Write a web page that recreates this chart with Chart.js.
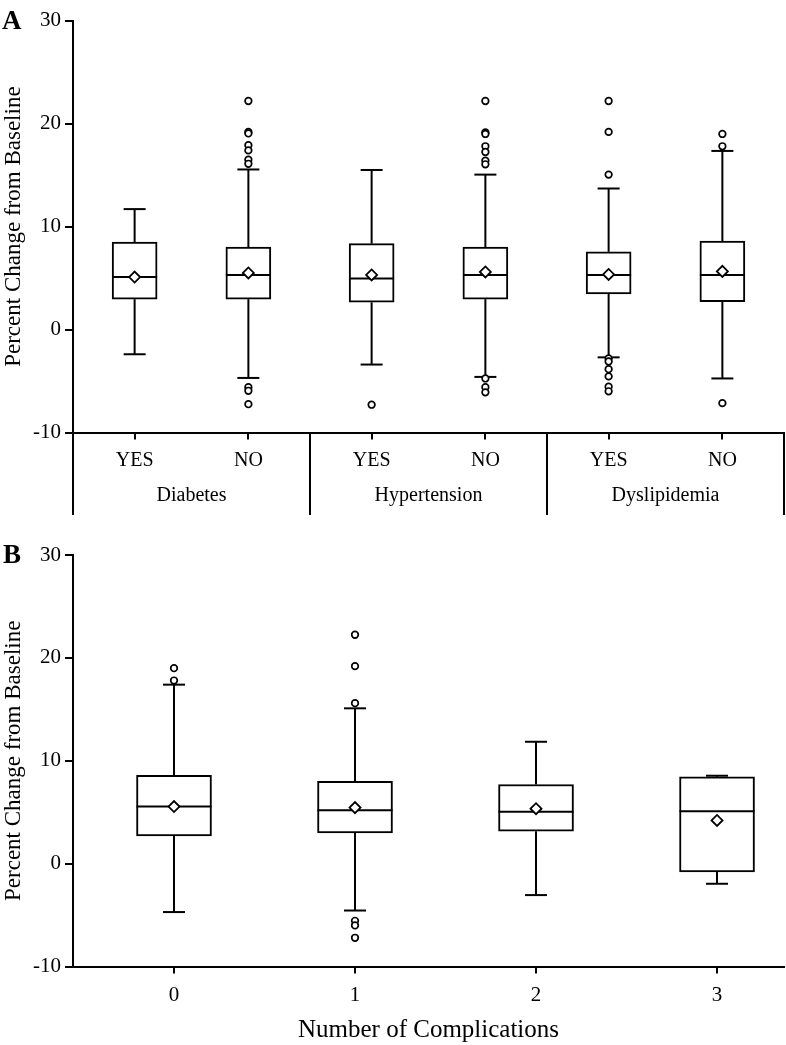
<!DOCTYPE html>
<html>
<head>
<meta charset="utf-8">
<script src="https://cdn.jsdelivr.net/npm/chart.js@4.4.1/dist/chart.umd.min.js"></script>
<style>
  body { margin: 0; background: #fff; }
  #wrap { position: relative; width: 786px; height: 1045px; }
  canvas { position: absolute; left: 0; }
  #chartA { top: 0; }
  #chartB { top: 520px; }
</style>
</head>
<body>
<div id="wrap">
  <canvas id="chartA" width="786" height="520"></canvas>
  <canvas id="chartB" width="786" height="525"></canvas>
</div>
<script>
const SERIF = '"Liberation Serif", "Times New Roman", serif';

// ---------- PANEL A DATA ----------
const groupsA = ["Diabetes", "Hypertension", "Dyslipidemia"];
const catsA = ["YES", "NO", "YES", "NO", "YES", "NO"];
const lowA  = [-2.4, -4.7, -3.4, -4.6, -2.7, -4.75];
const q1A   = [2.95, 2.95, 2.65, 2.95, 3.45, 2.7];
const medA  = [5.1, 5.3, 4.95, 5.3, 5.3, 5.3];
const q3A   = [8.5, 8.0, 8.35, 8.0, 7.55, 8.6];
const highA = [11.7, 15.55, 15.5, 15.05, 13.7, 17.35];
const meanA = [5.1, 5.5, 5.3, 5.6, 5.35, 5.65];
const outA = [
  [],
  [22.2, 19.2, 19.05, 17.9, 17.4, 16.5, 16.1, -5.6, -5.95, -7.25],
  [-7.3],
  [22.2, 19.15, 19.0, 17.8, 17.25, 16.4, 16.05, -4.75, -5.6, -6.1],
  [22.2, 19.2, 15.05, -2.8, -3.1, -3.85, -4.55, -5.55, -6.0],
  [19.0, 17.8, -7.15]
];

// ---------- PANEL B DATA ----------
const catsB = ["0", "1", "2", "3"];
const lowB  = [-4.7, -4.55, -3.05, -1.95];
const q1B   = [2.7, 3.0, 3.15, -0.8];
const medB  = [5.55, 5.2, 5.05, 5.1];
const q3B   = [8.6, 8.0, 7.7, 8.45];
const highB = [17.4, 15.1, 11.85, 8.55];
const meanB = [5.55, 5.45, 5.35, 4.2];
const outB  = [[19.0, 17.8], [22.25, 19.2, 15.6, -5.55, -6.0, -7.2], [], []];

const yTicks = [-10, 0, 10, 20, 30];

// x positions: panel A has two slots in each group, panel B one per count
const posA = catsA.map((c, i) => Math.floor(i / 2) + (i % 2 ? 0.74 : 0.26));
const posB = catsB.map(c => Number(c));

// ---------- WHISKERS + MEDIAN ----------
function whiskers(s) {
  return {
    id: 'whiskers',
    afterDatasetDraw(chart, args) {
      if (args.index !== 0) return;
      const y = chart.scales.y, ctx = chart.ctx;
      const line = (x1, y1, x2, y2) => { ctx.beginPath(); ctx.moveTo(x1, y1); ctx.lineTo(x2, y2); ctx.stroke(); };
      ctx.save();
      ctx.strokeStyle = '#000';
      ctx.lineWidth = 2;
      args.meta.data.forEach((bar, i) => {
        const x = bar.x, half = bar.width / 2, cap = 11;
        const hi = y.getPixelForValue(s.high[i]), lo = y.getPixelForValue(s.low[i]);
        line(x, y.getPixelForValue(s.q3[i]), x, hi);
        line(x, y.getPixelForValue(s.q1[i]), x, lo);
        line(x - cap, hi, x + cap, hi);
        line(x - cap, lo, x + cap, lo);
        const m = y.getPixelForValue(s.med[i]);
        line(x - half, m, x + half, m);
      });
      ctx.restore();
    }
  };
}

// ---------- CHART FACTORY ----------
function boxChart(id, o) {
  const s = o.stats;
  const outliers = [];
  s.out.forEach((vals, i) => vals.forEach(v => outliers.push({ x: o.pos[i], y: v })));

  return new Chart(document.getElementById(id), {
    type: 'bar',
    data: {
      datasets: [
        {
          type: 'bar',
          data: o.pos.map((p, i) => ({ x: p, y: [s.q1[i], s.q3[i]] })),
          backgroundColor: '#fff',
          borderColor: '#000',
          borderWidth: 2,
          borderSkipped: false,
          barThickness: o.boxWidth,
          order: 2
        },
        {
          type: 'scatter',
          data: o.pos.map((p, i) => ({ x: p, y: s.mean[i] })),
          pointStyle: 'rectRot',
          pointRadius: 5.5,
          backgroundColor: '#fff',
          borderColor: '#000',
          borderWidth: 1.8,
          order: 1
        },
        {
          type: 'scatter',
          data: outliers,
          pointStyle: 'circle',
          pointRadius: 3.3,
          backgroundColor: '#fff',
          borderColor: '#000',
          borderWidth: 1.7,
          order: 0
        }
      ]
    },
    options: {
      responsive: false,
      animation: false,
      devicePixelRatio: 1,
      layout: { autoPadding: false, padding: { left: 0, top: o.top, right: 2, bottom: 0 } },
      plugins: { legend: { display: false }, tooltip: { enabled: false } },
      scales: {
        x: {
          type: 'linear',
          min: o.xMin,
          max: o.xMax,
          offset: false,
          afterBuildTicks: sc => { sc.ticks = o.pos.map(v => ({ value: v })); },
          afterFit: sc => { sc.height = o.xHeight; sc.paddingLeft = 0; sc.paddingRight = 0; },
          ticks: {
            callback: (v, i) => o.cats[i],
            autoSkip: false,
            maxRotation: 0,
            color: '#000',
            padding: 9,
            font: { family: SERIF, size: o.xFont }
          },
          grid: { drawOnChartArea: false, offset: false, color: '#000', lineWidth: 2, tickLength: 7 },
          border: { display: true, color: '#000', width: 2 },
          title: {
            display: !!o.xTitle,
            text: o.xTitle || '',
            color: '#000',
            padding: 0,
            font: { family: SERIF, size: 25 }
          }
        },
        y: {
          min: -10,
          max: 30,
          afterBuildTicks: sc => { sc.ticks = yTicks.map(v => ({ value: v })); },
          afterFit: sc => { sc.width = 73; },
          ticks: { color: '#000', padding: 4, font: { family: SERIF, size: 21 } },
          grid: { drawOnChartArea: false, color: '#000', lineWidth: 2, tickLength: 8 },
          border: { display: true, color: '#000', width: 2 },
          title: {
            display: true,
            text: 'Percent Change from Baseline',
            color: '#000',
            padding: 0,
            font: { family: SERIF, size: 23 }
          }
        }
      }
    },
    plugins: [whiskers(s), o.decor]
  });
}

// ---------- PANEL A ----------
boxChart('chartA', {
  cats: catsA,
  pos: posA,
  xMin: 0,
  xMax: 3,
  top: 20.7,
  xHeight: 87.5,
  xFont: 20,
  boxWidth: 45,
  stats: { low: lowA, q1: q1A, med: medA, q3: q3A, high: highA, mean: meanA, out: outA },
  decor: {
    id: 'decorA',
    afterDraw(chart) {
      const ctx = chart.ctx, x = chart.scales.x, area = chart.chartArea;
      ctx.save();
      ctx.strokeStyle = '#000';
      ctx.lineWidth = 2;
      for (let g = 0; g <= groupsA.length; g++) {
        const px = x.getPixelForValue(g);
        ctx.beginPath();
        ctx.moveTo(px, area.bottom);
        ctx.lineTo(px, 515);
        ctx.stroke();
      }
      ctx.fillStyle = '#000';
      ctx.font = '20px ' + SERIF;
      ctx.textAlign = 'center';
      ctx.textBaseline = 'middle';
      groupsA.forEach((name, g) => ctx.fillText(name, x.getPixelForValue(g + 0.5), 496));
      ctx.textAlign = 'left';
      ctx.textBaseline = 'alphabetic';
      ctx.font = 'bold 27px ' + SERIF;
      ctx.fillText('A', 2, 29);
      ctx.restore();
    }
  }
});

// ---------- PANEL B ----------
boxChart('chartB', {
  cats: catsB,
  pos: posB,
  xMin: -0.558,
  xMax: 3.37,
  top: 35,
  xHeight: 78.4,
  xFont: 21,
  xTitle: 'Number of Complications',
  boxWidth: 75,
  stats: { low: lowB, q1: q1B, med: medB, q3: q3B, high: highB, mean: meanB, out: outB },
  decor: {
    id: 'decorB',
    afterDraw(chart) {
      const ctx = chart.ctx;
      ctx.save();
      ctx.fillStyle = '#000';
      ctx.font = 'bold 27px ' + SERIF;
      ctx.fillText('B', 3, 43);
      ctx.restore();
    }
  }
});
</script>
</body>
</html>
